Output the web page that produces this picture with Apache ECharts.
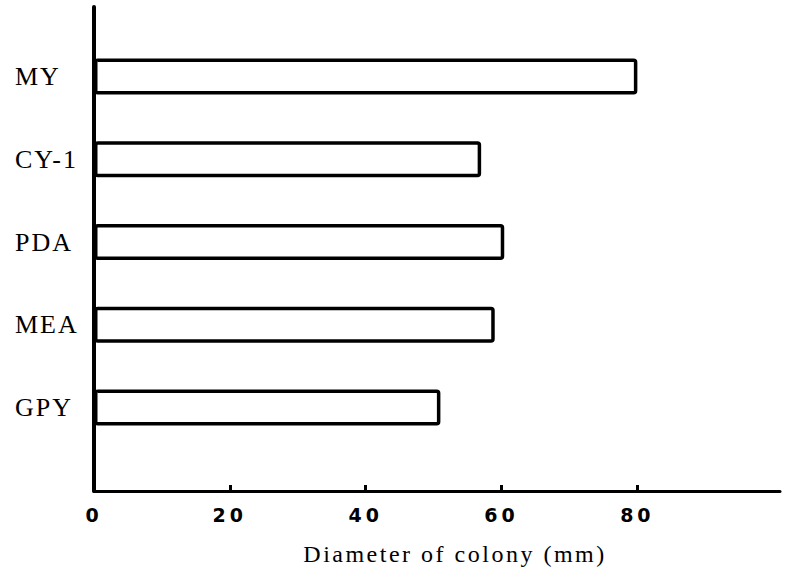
<!DOCTYPE html>
<html>
<head>
<meta charset="utf-8">
<script src="https://cdn.jsdelivr.net/npm/echarts@6/dist/echarts.min.js"></script>
<style>
  html, body { margin: 0; padding: 0; background: #fff; }
  #chart { width: 785px; height: 571px; }
  #chart text[style*="Liberation Serif"] { letter-spacing: 2px; }
  #chart text[style*="Times New Roman"] { letter-spacing: 2.5px; }
  #chart text[style*="DejaVu Sans"] { letter-spacing: 4px; }
</style>
</head>
<body>
<div id="chart"></div>
<script>
// Data (bottom-to-top order as drawn on the category axis)
const categories = ['GPY', 'MEA', 'PDA', 'CY-1', 'MY'];
const diameters = [51, 59, 60.4, 57, 80];
const tickLabels = [0, 20, 40, 60, 80];
const tickMarks = [20, 40, 60, 80];
const axisTitle = 'Diameter of colony (mm)';

const chart = echarts.init(document.getElementById('chart'), null, { renderer: 'svg' });

chart.setOption({
  backgroundColor: '#ffffff',
  animation: false,
  grid: [
    { left: 94, right: 5, top: 7, bottom: 78 },
    { left: 94, right: 5, top: 35, bottom: 122 }
  ],
  xAxis: [
    {
      gridIndex: 0,
      type: 'value',
      min: 0,
      max: 101,
      interval: 20,
      axisLine: { show: true, lineStyle: { color: '#000', width: 3 } },
      axisTick: { show: true, inside: true, length: 6, lineStyle: { color: '#000', width: 3 }, customValues: tickMarks },
      axisLabel: {
        customValues: tickLabels,
        margin: 14,
        color: '#000',
        fontFamily: 'DejaVu Sans',
        fontWeight: 'bold',
        fontSize: 19
      },
      splitLine: { show: false },
      name: axisTitle,
      nameLocation: 'middle',
      nameGap: 51,
      nameTextStyle: {
        color: '#000',
        fontFamily: 'Times New Roman',
        fontSize: 24,
        padding: [0, 0, 0, 36]
      }
    },
    {
      gridIndex: 1,
      type: 'value',
      min: 0,
      max: 101,
      show: false
    }
  ],
  yAxis: [
    {
      gridIndex: 0,
      type: 'value',
      min: 0,
      max: 1,
      axisLine: { show: true, lineStyle: { color: '#000', width: 4 } },
      axisTick: { show: false },
      axisLabel: { show: false },
      splitLine: { show: false }
    },
    {
      gridIndex: 1,
      type: 'category',
      data: categories,
      axisLine: { show: false },
      axisTick: { show: false },
      axisLabel: {
        align: 'left',
        margin: 79,
        color: '#000',
        fontFamily: 'Liberation Serif',
        fontSize: 26,
        padding: [0, 0, 6, 0]
      },
      splitLine: { show: false }
    }
  ],
  series: [
    {
      type: 'bar',
      xAxisIndex: 1,
      yAxisIndex: 1,
      data: diameters,
      barWidth: 36,
      itemStyle: {
        color: '#ffffff',
        borderColor: '#000000',
        borderWidth: 3.5,
        borderRadius: 2
      }
    }
  ]
});
</script>
</body>
</html>
